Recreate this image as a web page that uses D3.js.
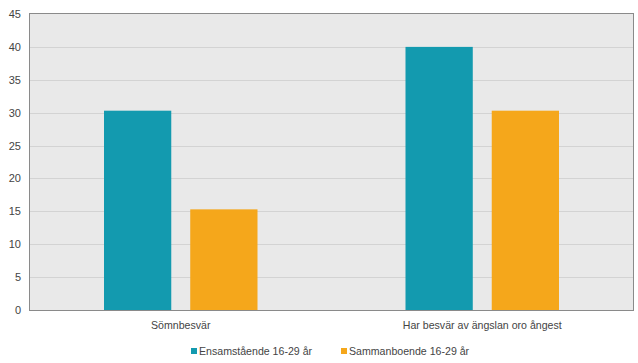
<!DOCTYPE html>
<html>
<head>
<meta charset="utf-8">
<script src="https://cdn.jsdelivr.net/npm/d3@7"></script>
<style>
  body { margin: 0; background: #fff; }
  text { font-family: "Liberation Sans", Arial, sans-serif; fill: #333; }
</style>
</head>
<body>
<script>
// data
var categories = ['Sömnbesvär', 'Har besvär av ängslan oro ångest'];
var seriesNames = ['Ensamstående 16-29 år', 'Sammanboende 16-29 år'];
var ensamstaende = [30.3, 40.0];
var sammanboende = [15.3, 30.3];
var yTicks = [0, 5, 10, 15, 20, 25, 30, 35, 40, 45];
var colors = ['#139aaf', '#f5a71b'];

// ----------------------------------------------------------------------------
var width = 638, height = 363;
var margin = { top: 14, right: 5, bottom: 53, left: 30 };
var innerW = width - margin.left - margin.right;
var innerH = height - margin.top - margin.bottom;

var svg = d3.select('body').append('svg')
  .attr('width', width)
  .attr('height', height);

var g = svg.append('g')
  .attr('transform', 'translate(' + margin.left + ',' + margin.top + ')');

var x0 = d3.scaleBand()
  .domain(categories)
  .range([0, innerW]);

var x1 = d3.scaleBand()
  .domain(seriesNames)
  .range([74, x0.bandwidth() - 74])
  .paddingInner(0.22);

var y = d3.scaleLinear()
  .domain([0, 45])
  .range([innerH, 0]);

// plot background
g.append('rect')
  .attr('width', innerW)
  .attr('height', innerH)
  .style('fill', '#e9e9e9');

// gridlines
g.selectAll('.grid')
  .data(yTicks.filter(function (d) { return d > 0 && d < 45; }))
  .enter()
  .append('line')
  .attr('x1', 0)
  .attr('x2', innerW)
  .attr('y1', function (d) { return Math.round(y(d)) + 0.5; })
  .attr('y2', function (d) { return Math.round(y(d)) + 0.5; })
  .style('stroke', '#d3d3d3')
  .style('stroke-width', 1);

// bars
var rows = categories.map(function (c, i) {
  return { cat: c, values: [ensamstaende[i], sammanboende[i]] };
});

var groups = g.selectAll('.grp')
  .data(rows)
  .enter()
  .append('g')
  .attr('transform', function (d) { return 'translate(' + x0(d.cat) + ',0)'; });

groups.selectAll('rect')
  .data(function (d) {
    return d.values.map(function (v, j) { return { name: seriesNames[j], value: v, idx: j }; });
  })
  .enter()
  .append('rect')
  .attr('x', function (d) { return x1(d.name); })
  .attr('width', x1.bandwidth())
  .attr('y', function (d) { return y(d.value); })
  .attr('height', function (d) { return innerH - y(d.value); })
  .style('fill', function (d) { return colors[d.idx]; });

// border
g.append('rect')
  .attr('x', -0.5)
  .attr('y', -0.5)
  .attr('width', innerW + 1)
  .attr('height', innerH + 1)
  .style('fill', 'none')
  .style('stroke', '#8a8a8a')
  .style('stroke-width', 1);

// y axis labels
var yAxis = d3.axisLeft(y)
  .tickValues(yTicks)
  .tickSize(0)
  .tickPadding(9);

var yg = g.append('g').call(yAxis);
yg.select('.domain').remove();
yg.selectAll('text')
  .style('font-size', '11px')
  .style('fill', '#444');

// x axis labels
var xAxis = d3.axisBottom(x0)
  .tickSize(0)
  .tickPadding(11);

var xg = g.append('g')
  .attr('transform', 'translate(0,' + innerH + ')')
  .call(xAxis);
xg.select('.domain').remove();
xg.selectAll('text')
  .style('font-size', '10.6px')
  .style('fill', '#444');

// legend
var legendX = [191, 341];
var legend = svg.selectAll('.legend')
  .data(seriesNames)
  .enter()
  .append('g')
  .attr('transform', function (d, i) { return 'translate(' + legendX[i] + ',348)'; });

legend.append('rect')
  .attr('width', 6)
  .attr('height', 6)
  .attr('y', 0)
  .style('fill', function (d, i) { return colors[i]; });

legend.append('text')
  .attr('x', 8)
  .attr('y', 7)
  .style('font-size', '10.6px')
  .style('fill', '#444')
  .text(function (d) { return d; });
</script>
</body>
</html>
